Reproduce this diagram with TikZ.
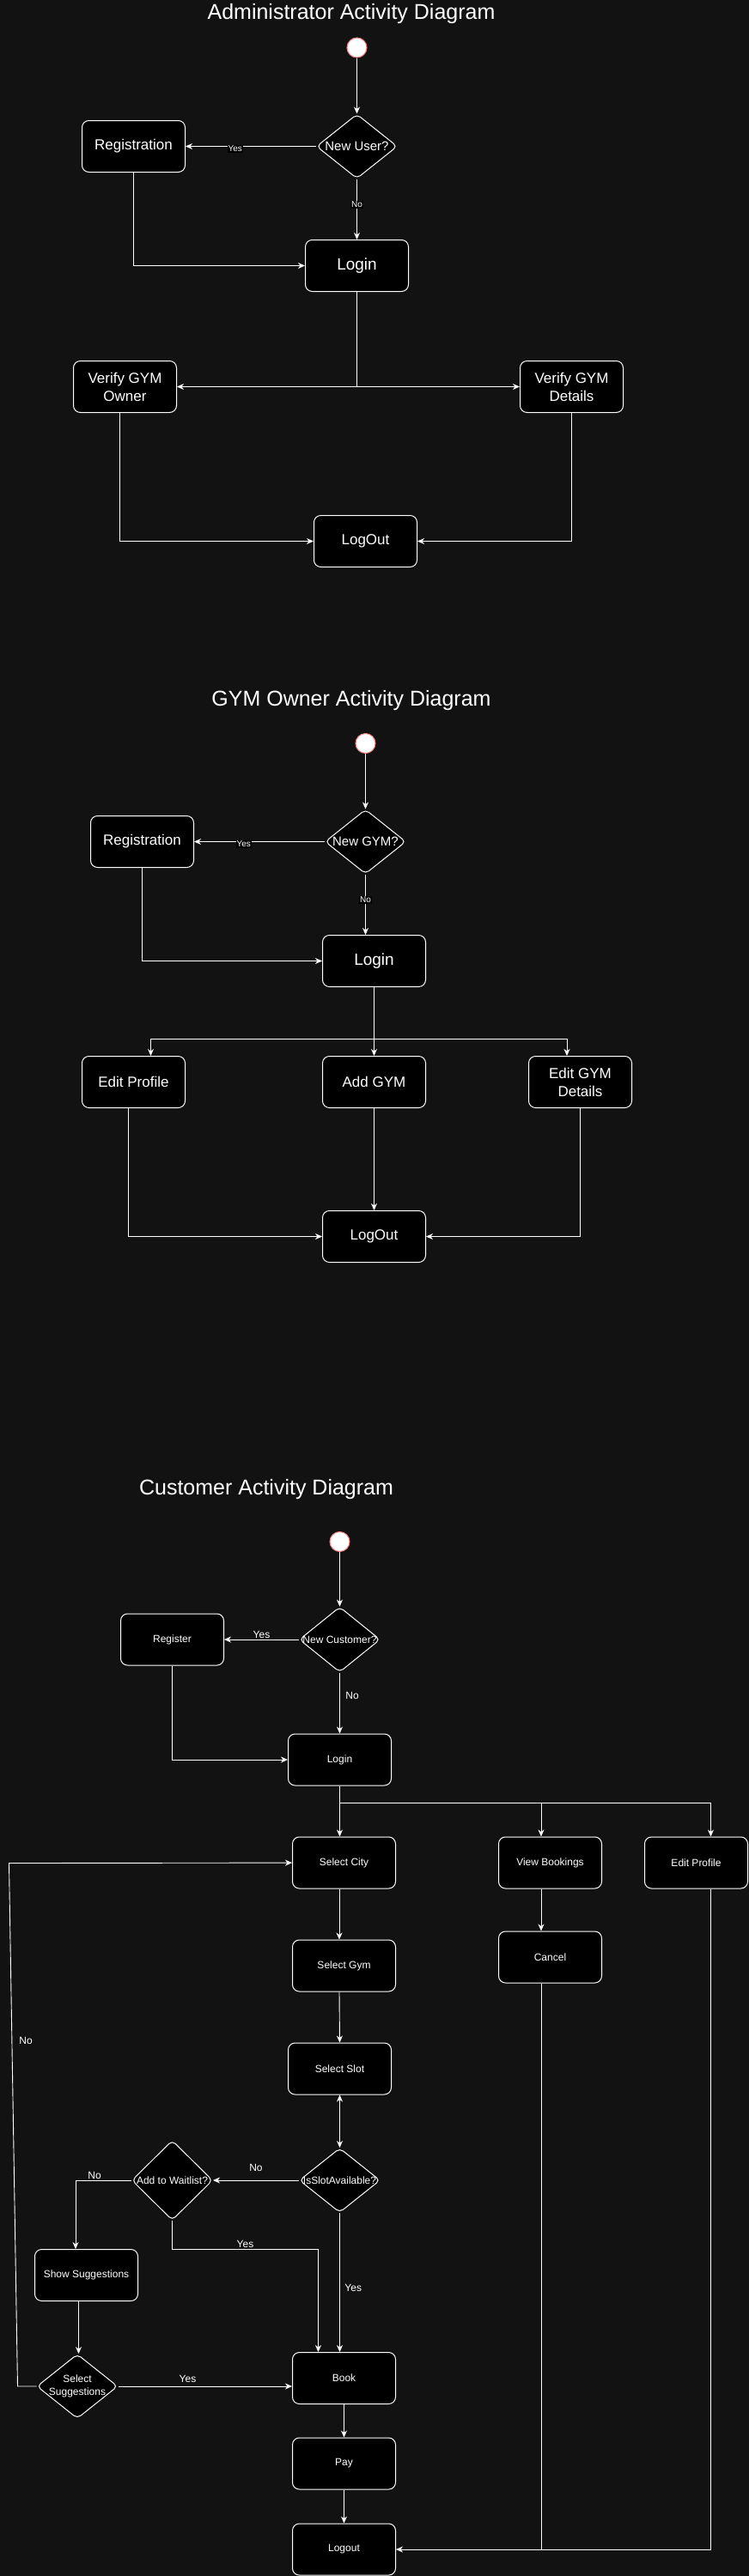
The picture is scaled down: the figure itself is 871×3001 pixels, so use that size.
\documentclass[tikz,border=0pt]{standalone}
\usepackage{fontspec}
\setmainfont{Liberation Sans}
\usetikzlibrary{shapes.geometric}
\usetikzlibrary{arrows.meta}
\definecolor{bgdark}{HTML}{121212}
\definecolor{startred}{HTML}{F08080}

\begin{document}
\begin{tikzpicture}[x=1pt, y=-1pt,
    >={Stealth[length=8pt, width=7pt, inset=2.5pt]},
    flow/.style={draw=white, line width=0.9pt, ->},
    activity/.style={draw=white, fill=black, text=white, rounded corners=8pt, line width=1pt,
        minimum width=120pt, minimum height=60pt, align=center, inner sep=2pt},
    decision/.style={diamond, draw=white, fill=black, rounded corners=5pt, line width=1pt,
        minimum width=94pt, minimum height=75pt, inner sep=0pt},
    startdot/.style={circle, draw=startred, fill=white, line width=1pt, minimum size=23pt, inner sep=0pt},
    diagtitle/.style={text=white, font=\fontsize{25}{30}\selectfont},
    boxtext/.style={font=\fontsize{17}{21}\selectfont},
    logintext/.style={font=\fontsize{19}{23}\selectfont},
    custtext/.style={font=\fontsize{12}{15}\selectfont},
    dtext/.style={text=white, align=center, inner sep=0pt},
    guard/.style={text=white, fill=black, inner sep=1pt, font=\fontsize{10}{12}\selectfont},
    cguard/.style={text=white, inner sep=1pt, font=\fontsize{12}{14}\selectfont}]

    \useasboundingbox (0,0) rectangle (871,3001);
    \fill[bgdark] (-6,-6) rectangle (877,3007);

    % Administrator
    \node[diagtitle] (title1) at (409,16) {Administrator Activity Diagram};
    \node[startdot] (start1) at (415.5,55.5) {};
    \node[decision, label={[dtext, font=\fontsize{15}{18}\selectfont]center:New User?}] (newuser) at (415.5,170.5) {};
    \node[activity, boxtext] (reg1) at (155.5,170.5) {Registration};
    \node[activity, logintext] (login1) at (415.5,309.5) {Login};
    \node[activity, boxtext] (vowner) at (145.5,450.5) {Verify GYM\\Owner};
    \node[activity, boxtext] (vdetails) at (665.5,450.5) {Verify GYM\\Details};
    \node[activity, boxtext] (logout1) at (425.5,630.5) {LogOut};

    \draw[flow] (start1) -- (newuser);
    \draw[flow] (newuser) -- node[guard, pos=0.62, yshift=-3pt]{Yes} (reg1);
    \draw[flow] (newuser) -- node[guard, pos=0.42]{No} (login1);
    \draw[flow] (reg1) |- (login1);
    \draw[flow] (login1) |- (vowner);
    \draw[flow] (login1) |- (vdetails);
    \draw[flow] ([xshift=-6.5pt]vowner.south) |- (logout1);
    \draw[flow] (vdetails) |- (logout1);

    % GYM Owner
    \node[diagtitle] (title2) at (409,816) {GYM Owner Activity Diagram};
    \node[startdot] (start2) at (425.5,866) {};
    \node[decision, label={[dtext, font=\fontsize{15}{18}\selectfont]center:New GYM?}] (newgym) at (425.5,980.5) {};
    \node[activity, boxtext] (reg2) at (165.5,980.5) {Registration};
    \node[activity, logintext] (login2) at (435.5,1119.5) {Login};
    \node[activity, boxtext] (editprof) at (155.5,1260.5) {Edit Profile};
    \node[activity, boxtext] (addgym) at (435.5,1260.5) {Add GYM};
    \node[activity, boxtext] (editgym) at (675.5,1260.5) {Edit GYM\\Details};
    \node[activity, boxtext] (logout2) at (435.5,1440.5) {LogOut};
    \coordinate (fork2) at (435.5,1210);

    \draw[flow] (start2) -- (newgym);
    \draw[flow] (newgym) -- node[guard, pos=0.62, yshift=-3pt]{Yes} (reg2);
    \draw[flow] (newgym) -- node[guard, pos=0.42]{No} (newgym |- login2.north);
    \draw[flow] (reg2) |- (login2);
    \draw[flow] (login2) -- (fork2) -| ([xshift=20pt]editprof.north);
    \draw[flow] (fork2) -- (addgym);
    \draw[flow] (fork2) -| ([xshift=-15.5pt]editgym.north);
    \draw[flow] ([xshift=-6.5pt]editprof.south) |- (logout2);
    \draw[flow] (addgym) -- (logout2);
    \draw[flow] (editgym) |- (logout2);

    % Customer
    \node[diagtitle] (title3) at (310,1735) {Customer Activity Diagram};
    \node[startdot] (start3) at (395.5,1796) {};
    \node[decision, minimum height=76pt, label={[dtext, custtext]center:New Customer?}] (newcust) at (395.5,1910) {};
    \node[activity, custtext] (register) at (200.5,1910) {Register};
    \node[activity, custtext] (login3) at (395.5,2050) {Login};
    \node[activity, custtext] (selcity) at (400.5,2170) {Select City};
    \node[activity, custtext] (viewbk) at (640.5,2170) {View Bookings};
    \node[activity, custtext] (editprof3) at (810.5,2170) {Edit Profile};
    \node[activity, custtext] (selgym) at (400.5,2290) {Select Gym};
    \node[activity, custtext] (cancel) at (640.5,2280) {Cancel};
    \node[activity, custtext] (selslot) at (395.5,2410) {Select Slot};
    \node[decision, label={[dtext, custtext]center:IsSlotAvailable?}] (slotavail) at (395.5,2540) {};
    \node[decision, minimum height=93pt, label={[dtext, custtext]center:Add to Waitlist?}] (waitlist) at (200.5,2540) {};
    \node[activity, custtext] (showsug) at (100.5,2650.5) {Show Suggestions};
    \node[decision, label={[dtext, custtext]center:Select\\Suggestions}] (selsug) at (90,2780) {};
    \node[activity, custtext] (book) at (400.5,2770.5) {Book};
    \node[activity, custtext] (pay) at (400.5,2870) {Pay};
    \node[activity, custtext] (logout3) at (400.5,2970) {Logout};
    \coordinate (fork3) at (395.5,2100);

    \draw[flow] (start3) -- (newcust);
    \draw[flow] (newcust) -- node[cguard, above]{Yes} (register);
    \draw[flow] (newcust) -- node[cguard, right=5.5pt, pos=0.375]{No} (login3);
    \draw[flow] (register) |- (login3);
    \draw[flow] (login3) -- (fork3) -- ([xshift=-5pt]selcity.north);
    \draw[flow] (fork3) -| ([xshift=-10.5pt]viewbk.north);
    \draw[flow] (fork3) -| ([xshift=17pt]editprof3.north);
    \draw[flow] ([xshift=-5.5pt]selcity.south) -- ([xshift=-5.5pt]selgym.north);
    \draw[flow] ([xshift=-5.5pt]selgym.south) -- (selslot.north);
    \draw[flow, <->] (selslot) -- (slotavail);
    \draw[flow] (slotavail) -- node[cguard, above=9pt]{No} (waitlist);
    \draw[flow] (waitlist) -| node[cguard, above, pos=0.33]{No} ([xshift=-12.5pt]showsug.north);
    \draw[flow] ([xshift=-9pt]showsug.south) -- ([xshift=-9pt]showsug.south |- selsug.north);
    \draw[flow] (selsug.east) -- node[cguard, above=3pt, pos=0.4]{Yes} (selsug.east -| book.west);
    \draw[flow] (selsug) -- (20.5,2780) -- node[cguard, right=7pt, pos=0.66]{No} (10.5,2170.5) -- (selcity);
    \draw[flow] (waitlist.south) -- ++(0,33.5) -| node[cguard, above, pos=0.25]{Yes} ([xshift=-30pt]book.north);
    \draw[flow] (slotavail) -- node[cguard, right=4.5pt, pos=0.54]{Yes} ([xshift=-5pt]book.north);
    \draw[flow] (book) -- (pay);
    \draw[flow] (pay) -- (logout3);
    \draw[flow] ([xshift=-10.5pt]viewbk.south) -- ([xshift=-10.5pt]cancel.north);
    \draw[flow] ([xshift=17pt]editprof3.south) |- (logout3);
    \draw[white, line width=0.9pt] ([xshift=-10.5pt]cancel.south) -- ([xshift=-10.5pt]cancel.south |- logout3.east);
\end{tikzpicture}
\end{document}
